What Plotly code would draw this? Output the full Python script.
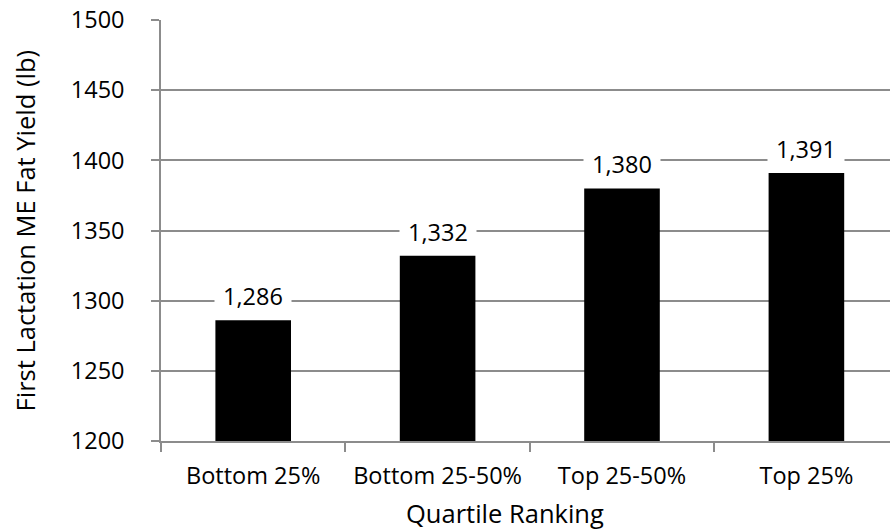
import plotly.graph_objects as go

# Quartile groups and first-lactation ME fat yield (lb)
categories = ["Bottom 25%", "Bottom 25-50%", "Top 25-50%", "Top 25%"]
fat_yield = [1286, 1332, 1380, 1391]
y_ticks = [1200, 1250, 1300, 1350, 1400, 1450, 1500]

FONT = "Open Sans"
FS = 23.5        # tick and value labels
FS_TITLE = 25.5  # axis titles
GRID = "#8c8c8c"

x_pos = list(range(len(categories)))

fig = go.Figure()
fig.add_trace(go.Bar(
    x=x_pos,
    y=fat_yield,
    width=0.41,
    marker=dict(color="black", line=dict(width=0)),
    hoverinfo="skip",
))

# value labels on white boxes above each bar
for xi, v in zip(x_pos, fat_yield):
    fig.add_annotation(
        x=xi, y=v, xref="x", yref="y",
        text=f"{v:,}",
        showarrow=False,
        yanchor="middle",
        yshift=24,
        bgcolor="white",
        width=70,
        borderpad=3,
        font=dict(family=FONT, size=FS, color="black"),
    )

# axis titles
fig.add_annotation(
    x=0.472, y=-0.171, xref="paper", yref="paper",
    text="Quartile Ranking", showarrow=False,
    xanchor="center", yanchor="middle",
    font=dict(family=FONT, size=FS_TITLE, color="black"),
)
fig.add_annotation(
    x=-0.1866, y=0.5, xref="paper", yref="paper",
    text="First Lactation ME Fat Yield (lb)", showarrow=False,
    textangle=-90, xanchor="center", yanchor="middle",
    font=dict(family=FONT, size=FS_TITLE, color="black"),
)

fig.update_layout(
    width=890, height=532,
    margin=dict(l=161, r=0, t=20, b=91),
    paper_bgcolor="white", plot_bgcolor="white",
    showlegend=False,
    font=dict(family=FONT, size=FS, color="black"),
    xaxis=dict(
        range=[-0.5, -0.5 + 729 / 184.4],
        tickvals=x_pos,
        ticktext=categories,
        ticks="",
        ticklabelstandoff=13,
        showgrid=False,
        showline=True, linecolor=GRID, linewidth=1.5,
        zeroline=False,
        minor=dict(tickvals=[-0.5, 0.5, 1.5, 2.5], ticks="outside",
                   ticklen=9, tickwidth=1.5, tickcolor=GRID, showgrid=False),
        tickfont=dict(family=FONT, size=FS, color="black"),
    ),
    yaxis=dict(
        range=[1200, 1500],
        tickvals=y_ticks,
        ticks="outside", ticklen=8, tickwidth=1.5, tickcolor=GRID,
        ticklabelstandoff=22,
        showgrid=True, gridcolor=GRID, gridwidth=1.5,
        showline=True, linecolor=GRID, linewidth=1.5,
        zeroline=False,
        tickfont=dict(family=FONT, size=FS, color="black"),
    ),
)

fig.write_html("out.html")
